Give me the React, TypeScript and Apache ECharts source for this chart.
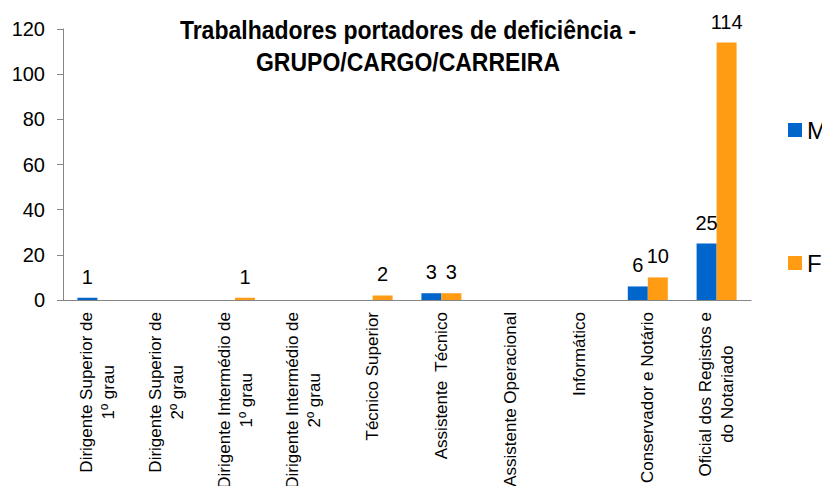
import React, { useEffect, useRef } from "react";
import * as echarts from "echarts";

const categories = [
  "Dirigente Superior de\n1º grau",
  "Dirigente Superior de\n2º grau",
  "Dirigente Intermédio de\n1º grau",
  "Dirigente Intermédio de\n2º grau",
  "Técnico Superior",
  "Assistente  Técnico",
  "Assistente Operacional",
  "Informático",
  "Conservador e Notário",
  "Oficial dos Registos e\ndo Notariado",
];
const seriesM = [1, 0, 0, 0, 0, 3, 0, 0, 6, 25];
const seriesF = [0, 0, 1, 0, 2, 3, 0, 0, 10, 114];
const titleText = "Trabalhadores portadores de deficiência -\nGRUPO/CARGO/CARREIRA";

const FONT = "'Liberation Sans', Arial, sans-serif";

export default function App() {
  const ref = useRef<HTMLDivElement>(null);
  useEffect(() => {
    if (!ref.current) return;
    const chart = echarts.init(ref.current, undefined, { renderer: "svg" });
    const labelCfg = {
      show: true,
      position: "top",
      distance: 11,
      fontSize: 20,
      color: "#000",
      fontFamily: FONT,
      formatter: (p: any) => (p.value === 0 ? "" : String(p.value)),
    };
    chart.setOption({
      animation: false,
      backgroundColor: "#fff",
      graphic: [
        {
          type: "text",
          x: 408,
          y: 14,
          scaleX: 0.92,
          style: {
            text: titleText,
            align: "center",
            verticalAlign: "top",
            font: "bold 25px 'Liberation Sans', Arial, sans-serif",
            lineHeight: 32,
            fill: "#000",
          },
        },
      ],
      legend: {
        orient: "vertical",
        left: 788,
        top: 117,
        padding: 0,
        itemGap: 107,
        itemWidth: 14,
        itemHeight: 14,
        icon: "rect",
        textStyle: { fontSize: 24, lineHeight: 26, fontFamily: FONT, color: "#000" },
        data: ["M", "F"],
      },
      grid: { left: 63, right: 79, top: 29, bottom: 194, outerBoundsMode: "none", containLabel: false },
      xAxis: {
        type: "category",
        data: categories,
        axisLine: { lineStyle: { color: "#868686" } },
        axisTick: { length: 6, lineStyle: { color: "#868686" } },
        axisLabel: {
          interval: 0,
          rotate: 90,
          margin: 12,
          fontSize: 17,
          fontFamily: FONT,
          color: "#000",
          formatter: (v: string) => v.split("\n").map((l) => `{c|${l}}`).join("\n"),
          rich: { c: { align: "center", fontSize: 17, lineHeight: 22, fontFamily: FONT, color: "#000" } },
        },
      },
      yAxis: {
        type: "value",
        min: 0,
        max: 120,
        interval: 20,
        splitLine: { show: false },
        axisLine: { show: true, lineStyle: { color: "#868686" } },
        axisTick: { show: true, length: 6, lineStyle: { color: "#868686" } },
        axisLabel: { fontSize: 20, fontFamily: FONT, color: "#000", margin: 18 },
      },
      series: [
        {
          name: "M",
          type: "bar",
          data: seriesM,
          barWidth: 20,
          barGap: "0%",
          itemStyle: { color: "#0066CC" },
          label: labelCfg,
        },
        {
          name: "F",
          type: "bar",
          data: seriesF,
          barWidth: 20,
          barGap: "0%",
          itemStyle: { color: "#FF9C14" },
          label: labelCfg,
        },
      ],
    });
    return () => chart.dispose();
  }, []);
  return <div ref={ref} style={{ width: 830, height: 494, margin: -8 }} />;
}
